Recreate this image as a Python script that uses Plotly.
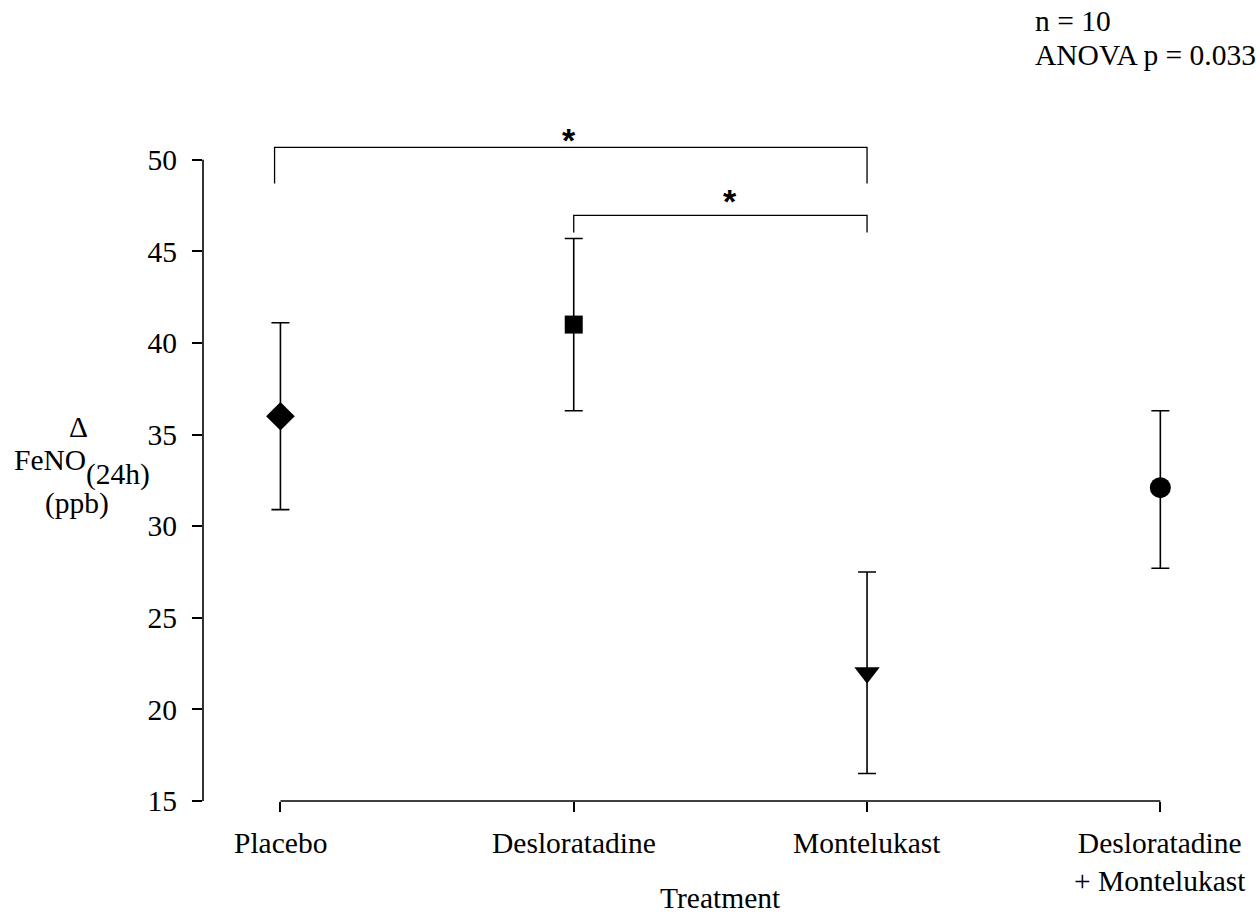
import plotly.graph_objects as go

# ---- data ----
categories = ["Placebo", "Desloratadine", "Montelukast", "Desloratadine<br>+ Montelukast"]
means = [36.0, 41.0, 22.0, 32.1]
err_plus = [5.1, 4.7, 5.5, 4.2]
err_minus = [5.1, 4.7, 5.5, 4.4]
symbols = ["diamond", "square", "triangle-down", "circle"]
marker_sizes = [22, 18, 22, 21]
y_ticks = [15, 20, 25, 30, 35, 40, 45, 50]
# significance brackets: (from index, to index, bar level, arm end level)
brackets = [(0, 2, 50.67, 48.7), (1, 2, 46.96, 46.03)]

FONT = "Liberation Serif"
FS = 29.5
W, H = 1260, 916
L, R, T, B = 203, 41, 123, 115
XR = [-0.264, 3.2]
YR = [15, 52]
pw, ph = W - L - R, H - T - B


def px(xp):
    return (xp - L) / pw


def py(yp):
    return (H - B - yp) / ph


def txt(x, y, text, xanchor="center", size=FS, family=FONT):
    return dict(x=px(x), y=py(y), xref="paper", yref="paper", text=text,
                showarrow=False, xanchor=xanchor, yanchor="middle",
                font=dict(family=family, size=size, color="black"))


fig = go.Figure()
xs = list(range(len(categories)))
for i in xs:
    fig.add_trace(go.Scatter(
        x=[i], y=[means[i]], mode="markers",
        marker=dict(symbol=symbols[i], size=marker_sizes[i], color="black",
                    line=dict(width=0)),
        error_y=dict(type="data", symmetric=False, array=[err_plus[i]],
                     arrayminus=[err_minus[i]], thickness=1.6, width=9,
                     color="black"),
        showlegend=False, cliponaxis=False))

shapes = []
# axes lines
shapes.append(dict(type="line", xref="paper", yref="y", x0=0, x1=0,
                   y0=y_ticks[0], y1=y_ticks[-1], line=dict(color="black", width=1.6)))
shapes.append(dict(type="line", xref="x", yref="paper", x0=xs[0], x1=xs[-1],
                   y0=0, y1=0, line=dict(color="black", width=1.6)))
annotations = []
for a, b, top, end in brackets:
    xa = a - 0.02 if a == 0 else a
    shapes.append(dict(type="path", xref="x", yref="y",
                       path=f"M {xa},{end} L {xa},{top} L {b},{top} L {b},{end}",
                       line=dict(color="black", width=1.3)))

# stars
annotations.append(txt(569, 140, "<b>*</b>", size=34, family="Liberation Sans"))
annotations.append(txt(730, 201, "<b>*</b>", size=34, family="Liberation Sans"))

# category labels
for i, c in enumerate(categories):
    annotations.append(dict(x=i, y=0, xref="x", yref="paper", yanchor="top",
                            xanchor="center", yshift=-24, text=c,
                            showarrow=False, align="center",
                            font=dict(family=FONT, size=FS, color="black")))

# axis titles
annotations.append(txt(720, 898, "Treatment"))
annotations.append(txt(78, 427, "Δ"))
annotations.append(txt(12, 460, "FeNO", xanchor="left"))
annotations.append(txt(84, 474, "(24h)", xanchor="left"))
annotations.append(txt(77, 503, "(ppb)"))

# stats text
annotations.append(txt(1033, 21, "n = 10", xanchor="left"))
annotations.append(txt(1033, 55, "ANOVA p = 0.033", xanchor="left"))

fig.update_layout(
    width=W, height=H,
    margin=dict(l=L, r=R, t=T, b=B, autoexpand=False),
    paper_bgcolor="white", plot_bgcolor="white",
    xaxis=dict(range=XR, tickvals=xs, showticklabels=False, ticks="outside",
               ticklen=10, tickwidth=1.6, tickcolor="black", showgrid=False,
               zeroline=False, showline=False),
    yaxis=dict(range=YR, tickvals=y_ticks, ticks="outside", ticklen=10,
               tickwidth=1.6, tickcolor="black", showgrid=False, zeroline=False,
               showline=False, ticklabelstandoff=9,
               tickfont=dict(family=FONT, size=FS, color="black")),
    shapes=shapes, annotations=annotations,
)

fig.write_html("out.html")
